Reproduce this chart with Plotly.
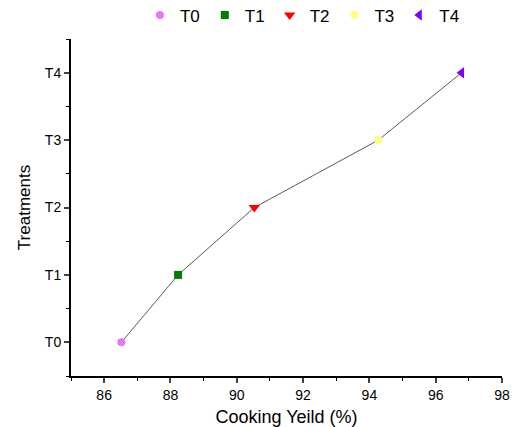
import plotly.graph_objects as go

treatments = ["T0", "T1", "T2", "T3", "T4"]
cooking_yield = [86.52, 88.23, 90.53, 94.27, 96.78]
marker_symbols = ["circle", "square", "triangle-down", "circle", "triangle-left"]
marker_colors = ["#E07BF0", "#007F00", "#FF0000", "#FFFF80", "#7F00FF"]
x_ticks = [86, 88, 90, 92, 94, 96, 98]

ypos = list(range(len(treatments)))

fig = go.Figure()
fig.add_trace(go.Scatter(x=cooking_yield, y=ypos, mode="lines",
                         line=dict(color="#303030", width=0.8), showlegend=False,
                         hoverinfo="skip"))
for i, t in enumerate(treatments):
    sym = marker_symbols[i]
    size = 10 if "triangle" in sym else 8
    fig.add_trace(go.Scatter(x=[cooking_yield[i]], y=[ypos[i]], mode="markers", name=t,
                             marker=dict(symbol=sym, color=marker_colors[i], size=size,
                                         line=dict(width=0))))

font = "Liberation Sans, Arial, sans-serif"
fig.update_layout(
    width=512, height=427,
    margin=dict(l=71, r=10, t=39, b=51, autoexpand=False),
    paper_bgcolor="white", plot_bgcolor="white",
    font=dict(family=font, color="black"),
    legend=dict(orientation="h", x=0.537, xanchor="center", y=0.964, yanchor="middle",
                yref="container", font=dict(size=17), itemwidth=30,
                bgcolor="rgba(0,0,0,0)"),
    xaxis=dict(range=[85, 98], tickvals=x_ticks, ticks="outside", ticklen=5, tickwidth=1.5,
               showline=True, linecolor="black", linewidth=2, showgrid=False, zeroline=False,
               tickfont=dict(size=14), automargin=False,
               minor=dict(dtick=1, tick0=85, ticks="outside", ticklen=3, tickwidth=1.2, tickcolor="black"),
               title=dict(text="Cooking Yeild (%)", font=dict(size=18), standoff=12)),
    yaxis=dict(range=[-0.5, 4.5], tickvals=ypos, ticktext=treatments, ticks="outside", ticklen=5,
               tickwidth=1.5, showline=True, linecolor="black", linewidth=2, showgrid=False,
               zeroline=False, tickfont=dict(size=14), automargin=False,
               minor=dict(dtick=0.5, tick0=-0.5, ticks="outside", ticklen=3, tickwidth=1.2, tickcolor="black"),
               title=dict(text="Treatments", font=dict(size=17), standoff=10)),
)
fig.write_html("out.html", config={"displayModeBar": False},
               post_script="document.body.style.margin='0px';")
